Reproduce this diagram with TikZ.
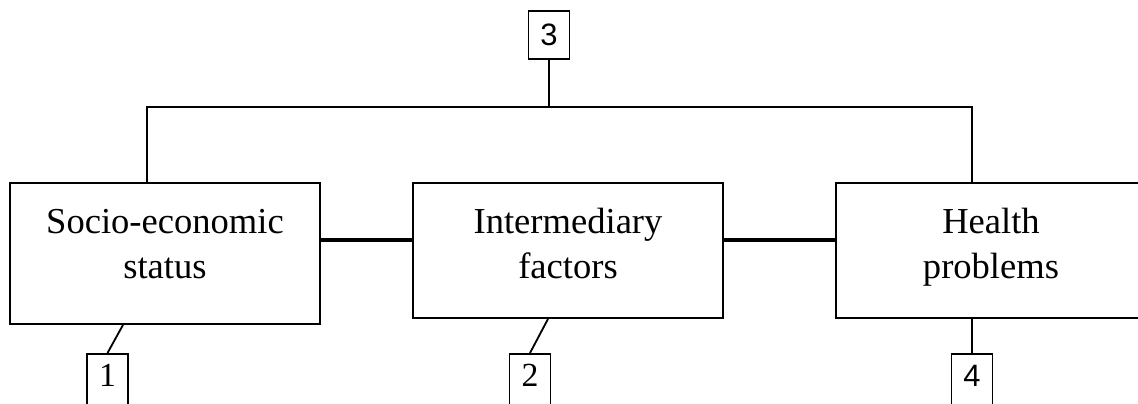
\documentclass[tikz,border=0pt]{standalone}
\usepackage{fontspec}
\setmainfont{Liberation Serif}
\newfontfamily\numsans{Liberation Sans}

\begin{document}
\begin{tikzpicture}[x=0.025cm,y=-0.025cm,
  factor/.style={draw,line width=1.3pt,minimum width=7.75cm,align=center,
    font=\fontsize{26}{32}\selectfont},
  numbox/.style={draw,line width=1.3pt,minimum width=1.025cm,minimum height=1.2cm,
    inner sep=0pt,font=\fontsize{24}{24}\selectfont},
  low/.style={anchor=north,text height=16pt,text depth=30pt,inner ysep=7pt,minimum height=0pt},
  sansnum/.style={font=\fontsize{22}{22}\selectfont\numsans},
  wire/.style={line width=1.3pt},
  boldlink/.style={line width=3pt}]
\useasboundingbox (0,0) rectangle (1138,403);
\clip (0,0) rectangle (1138,403);

% the three factors
\node[factor,minimum height=3.525cm,text depth=14pt] (ses) at (165,253.5) {Socio-economic\\status};
\node[factor,minimum height=3.375cm,text depth=10pt] (imf) at (568,250.5) {Intermediary\\factors};
\node[factor,minimum height=3.375cm,text depth=10pt] (hp) at (991,250.5) {Health\\problems};

% numbered boxes
\node[numbox,sansnum] (n3) at (549,35) {3};
\node[numbox,low] (n1) at (107.5,353) {1};
\node[numbox,low] (n2) at (530,353) {2};
\node[numbox,low,sansnum] (n4) at (972,353) {4};

% links between the factors
\coordinate (lnk) at (0,240);
\draw[boldlink] (ses.east |- lnk) -- (imf.west |- lnk);
\draw[boldlink] (imf.east |- lnk) -- (hp.west |- lnk);

% top bracket
\coordinate (brl) at (147,107);
\coordinate (brr) at (972,107);
\draw[wire] (ses.north -| brl) -- (brl) -- (brr) -- (hp.north -| brr);
\draw[wire] (n3) -- (n3 |- brl);

% bottom leads
\coordinate (s1) at (123,0);
\coordinate (s2) at (548,0);
\draw[wire] (ses.south -| s1) -- (n1.north);
\draw[wire] (imf.south -| s2) -- (n2.north);
\draw[wire] (hp.south -| n4) -- (n4.north);
\end{tikzpicture}
\end{document}
